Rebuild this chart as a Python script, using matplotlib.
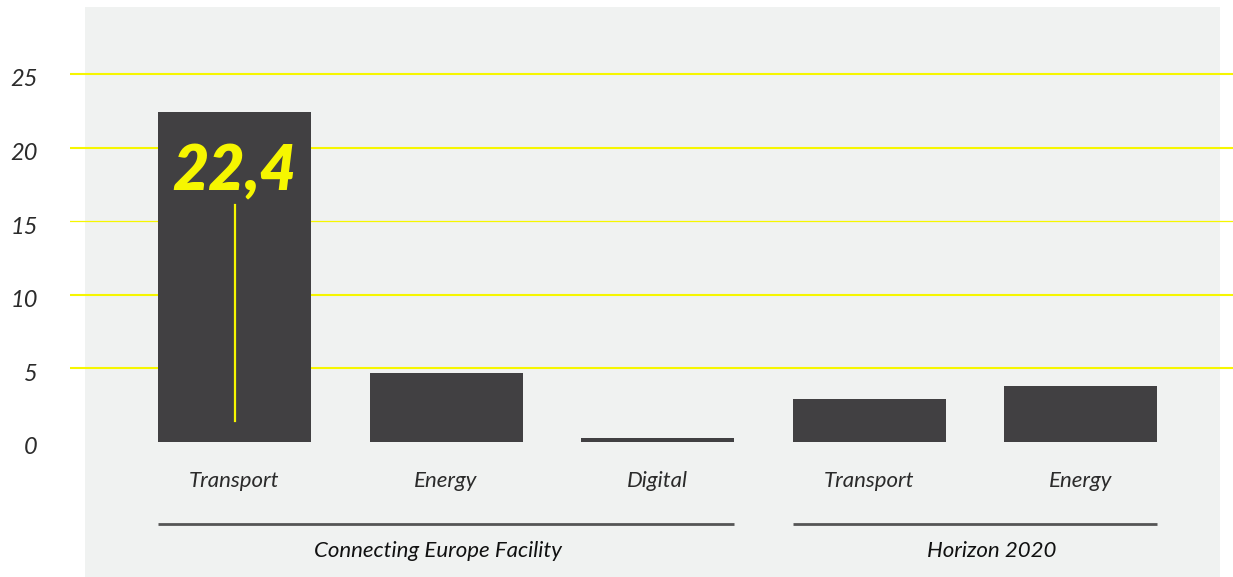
import matplotlib.pyplot as plt
from matplotlib.patches import Rectangle
from matplotlib.transforms import ScaledTranslation

# data
groups = ["Connecting Europe Facility", "Horizon 2020"]
group_members = [[0, 1, 2], [3, 4]]
categories = ["Transport", "Energy", "Digital", "Transport", "Energy"]
values = [22.4, 4.7, 0.3, 2.9, 3.8]
yticks = [0, 5, 10, 15, 20, 25]
label_text = "22,4"

bar_col = "#414042"
yellow = "#F6F600"
bg = "#F0F2F1"
txt = "#2b2b2b"

W, H = 1233, 577
fig = plt.figure(figsize=(W / 100, H / 100), dpi=100)

# grey panel behind the plot
fig.patches.append(Rectangle((85 / W, 0), (1220 - 85) / W, (577 - 7) / H,
                             transform=fig.transFigure, facecolor=bg,
                             edgecolor="none", zorder=-5))

ax = fig.add_axes([70 / W, 0, 1 - 70 / W, 1])
ax.set_zorder(2)
ax.set_facecolor("none")
ax.patch.set_alpha(0)
pitch = 211.5
ax.set_xlim((70 - 234.5) / pitch, (1233 - 234.5) / pitch)
ppu = 368 / 25
ax.set_ylim(-(577 - 442) / ppu, 442 / ppu)
for s in ax.spines.values():
    s.set_visible(False)

# grid lines
for t in yticks[1:]:
    ax.axhline(t, color=yellow, lw=0.9 if t == 15 else 1.5, zorder=1)

x = list(range(len(values)))
bw = 153 / pitch
ax.bar(x, values, width=bw, color=bar_col, zorder=2)

ax.set_xticks([])
ax.set_yticks(yticks)
ax.set_yticklabels([str(t) for t in yticks], fontfamily="Lato", fontstyle="italic",
                   fontsize=17, color=txt)
ax.tick_params(axis="y", length=0, pad=23)
shift = ScaledTranslation(0, -4 / 100, fig.dpi_scale_trans)
for lab in ax.get_yticklabels():
    lab.set_transform(lab.get_transform() + shift)

# category labels
for i, c in enumerate(categories):
    ax.text(i, (442 - 481) / ppu, c, ha="center", va="center", fontfamily="Lato",
            fontstyle="italic", fontsize=16, color=txt)

# group lines and labels
label_nudge = [-8, 17]  # px, the source doesn't centre these exactly
for g, mem, nd in zip(groups, group_members, label_nudge):
    x0 = mem[0] - bw / 2
    x1 = mem[-1] + bw / 2
    ax.plot([x0, x1], [(442 - 524) / ppu] * 2, color="#555555", lw=2, solid_capstyle="butt")
    ax.text((x0 + x1) / 2 + nd / pitch, (442 - 551) / ppu, g, ha="center", va="center",
            fontfamily="Lato", fontstyle="italic", fontsize=16, color="#111111")

# highlighted value
ax.text(0, values[0] - 6.0, label_text, ha="center", va="bottom", fontfamily="Lato",
        fontstyle="italic", fontweight="heavy", fontsize=45, color=yellow, zorder=3)
ax.plot([0, 0], [1.4, 16.1], color=yellow, lw=1.6, zorder=3)

fig.savefig("out.png", dpi=100)
